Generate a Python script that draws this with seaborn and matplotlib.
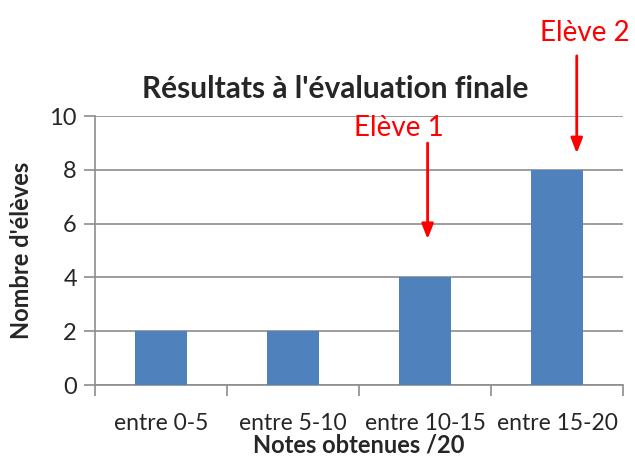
import pandas as pd
import numpy as np

import seaborn as sns
import matplotlib.pyplot as plt

categories = ["entre 0-5", "entre 5-10", "entre 10-15", "entre 15-20"]
nb_eleves = [2, 2, 4, 8]
y_ticks = [0, 2, 4, 6, 8, 10]

sns.set_style("white")
plt.rcParams['font.family'] = ['Lato', 'DejaVu Sans']

df = pd.DataFrame({"notes": categories, "eleves": nb_eleves})

fig = plt.figure(figsize=(6.35, 4.57), dpi=100)
ax = fig.add_axes([0.1496, 0.1575, 0.8314, 0.5886])

sns.barplot(data=df, x="notes", y="eleves", color="#4F81BD", width=0.4,
            saturation=1, linewidth=0, ax=ax, zorder=3)

ax.set_ylim(0, 10)
ax.set_xlim(-0.5, 3.5)
ax.set_yticks(y_ticks)
ax.yaxis.grid(True, color="#8C8C8C", linewidth=1.2, zorder=0)
ax.set_axisbelow(True)

for s in ["top", "right"]:
    ax.spines[s].set_visible(False)
for s in ["left", "bottom"]:
    ax.spines[s].set_color("#8C8C8C")
    ax.spines[s].set_linewidth(1.2)

# x ticks sit between categories, labels centred on bars
ax.set_xticks(np.arange(-0.5, 4, 1))
ax.set_xticklabels([])
ax.set_xticks(np.arange(len(categories)), labels=categories, minor=True)
ax.tick_params(axis="x", which="major", length=8, width=1.2, color="#8C8C8C", direction="out")
ax.tick_params(axis="x", which="minor", length=0, pad=20, labelsize=16.5)
ax.tick_params(axis="y", length=8, width=1.2, color="#8C8C8C", direction="out", labelsize=17, pad=5)
ax.tick_params(bottom=True, left=True, which="major")

ax.set_xlabel("Notes obtenues /20", fontsize=17, fontweight="bold", labelpad=0)
ax.set_ylabel("Nombre d'élèves", fontsize=17, fontweight="bold", labelpad=12)

fig.text(0.528, 0.805, "Résultats à l'évaluation finale", ha="center", va="center",
         fontsize=21.5, fontweight="bold")

arrow = dict(arrowstyle="-|>,head_length=0.9,head_width=0.35", color="red", lw=2)
ax.annotate("", xy=(2.02, 5.32), xytext=(2.02, 9.1), arrowprops=arrow, annotation_clip=False)
ax.annotate("", xy=(3.15, 8.51), xytext=(3.15, 12.34), arrowprops=arrow, annotation_clip=False)
ax.text(1.80, 9.55, "Elève 1", color="red", fontsize=20, ha="center", va="center", clip_on=False)
ax.text(3.21, 13.1, "Elève 2", color="red", fontsize=20, ha="center", va="center", clip_on=False)

fig.savefig("out.png", dpi=100)
